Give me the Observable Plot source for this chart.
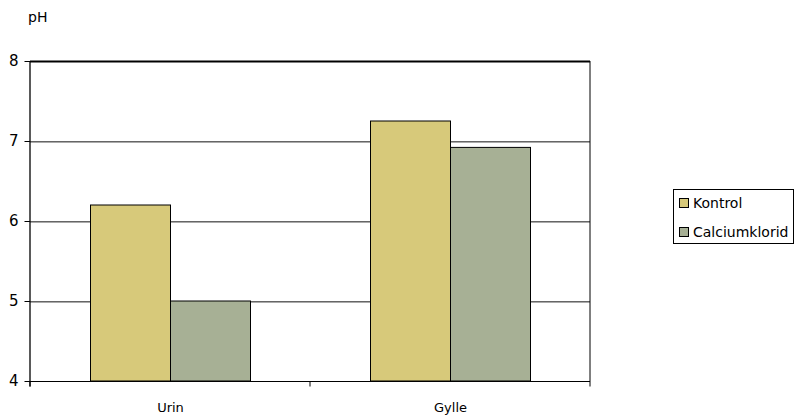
<!DOCTYPE html>
<html><head><meta charset="utf-8">
<script src="https://cdn.jsdelivr.net/npm/d3@7"></script>
<script src="https://cdn.jsdelivr.net/npm/@observablehq/plot@0.6"></script>
<style>
body{margin:0;background:#fff;font-family:"DejaVu Sans",sans-serif;color:#000;}
#wrap{position:relative;width:796px;height:416px;overflow:hidden;}
#ylab{position:absolute;left:28px;top:9px;font-size:14px;line-height:17px;}
#legend{position:absolute;left:673px;top:189px;width:121px;height:55px;border:1px solid #000;font-size:14px;box-sizing:border-box;}
.item{position:absolute;left:5px;display:flex;align-items:center;white-space:nowrap;}
.sw{width:10px;height:10px;border:1px solid #000;box-sizing:border-box;margin-right:4px;}
</style>
</head><body>
<div id="wrap"><div id="ylab">pH</div><div id="legend"></div></div>
<script>
const categories = ["Urin", "Gylle"];
const series = ["Kontrol", "Calciumklorid"];
const kontrol = [6.2, 7.25];
const calciumklorid = [5.0, 6.92];
const yTicks = [4, 5, 6, 7, 8];
const colors = ["#D7C97A", "#A7B095"];

const yDomain = [4, 8];
const gridValues = [5, 6, 7];
const data = [];
categories.forEach((c, i) => {
  data.push({category: c, series: series[0], value: kontrol[i]});
  data.push({category: c, series: series[1], value: calciumklorid[i]});
});

const plot = Plot.plot({
  width: 796,
  height: 416,
  marginLeft: 29.5,
  marginRight: 206.5,
  marginTop: 61,
  marginBottom: 35,
  style: {fontFamily: "DejaVu Sans", fontSize: "13px", background: "#fff", color: "#000", overflow: "visible"},
  fx: {domain: categories, padding: 0, label: null, axis: "bottom", tickSize: 0, tickPadding: 21},
  x: {domain: series, axis: null, paddingInner: 0, paddingOuter: 0.75},
  y: {domain: yDomain, ticks: yTicks, tickSize: 5.5, tickPadding: 6.5, label: null, tickFormat: d3.format("d")},
  color: {domain: series, range: colors},
  marks: [
    Plot.ruleY(gridValues, {stroke: "#aaaaaa", strokeWidth: 1, dy: 1}),
    Plot.ruleY(gridValues, {stroke: "#666666", strokeWidth: 1}),
    Plot.barY(data, {fx: "category", x: "series", y1: yDomain[0], y2: "value", fill: "series", stroke: "#000", strokeWidth: 1}),
    Plot.ruleY([yDomain[1]], {stroke: "#000", strokeWidth: 2}),
    Plot.ruleY([yDomain[0]], {stroke: "#000", strokeWidth: 1.2})
  ]
});

const svg = d3.select(plot);
svg.selectAll('[aria-label="y-axis tick label"]').attr("font-size", 15);

// frame sides and category boundary ticks from the library's scales
const fx = plot.scale("fx");
const ys = plot.scale("y");
const bounds = categories.map(c => fx.apply(c));
bounds.push(fx.apply(categories[categories.length - 1]) + fx.bandwidth);
const yTop = ys.apply(yDomain[1]), yBot = ys.apply(yDomain[0]);
const g = svg.append("g").attr("stroke", "#000");
g.append("line").attr("x1", bounds[0]).attr("x2", bounds[0]).attr("y1", yTop).attr("y2", yBot + 5.5).attr("stroke-width", 1.3);
g.append("line").attr("x1", bounds[bounds.length-1]).attr("x2", bounds[bounds.length-1]).attr("y1", yTop).attr("y2", yBot).attr("stroke-width", 1);
bounds.forEach(b => {
  g.append("line").attr("x1", b).attr("x2", b).attr("y1", yBot).attr("y2", yBot + 5.5).attr("stroke-width", 1);
});

const wrap = document.getElementById("wrap");
wrap.insertBefore(plot, wrap.firstChild);
plot.style.position = "absolute";
plot.style.left = "0";
plot.style.top = "0";
const legend = document.getElementById("legend");
series.forEach((s, i) => {
  const it = document.createElement("div");
  it.className = "item";
  it.style.top = (i === 0 ? 5 : 34) + "px";
  const sw = document.createElement("div");
  sw.className = "sw";
  sw.style.background = colors[i];
  const t = document.createElement("span");
  t.textContent = s;
  it.appendChild(sw); it.appendChild(t);
  legend.appendChild(it);
});
</script>
</body></html>
